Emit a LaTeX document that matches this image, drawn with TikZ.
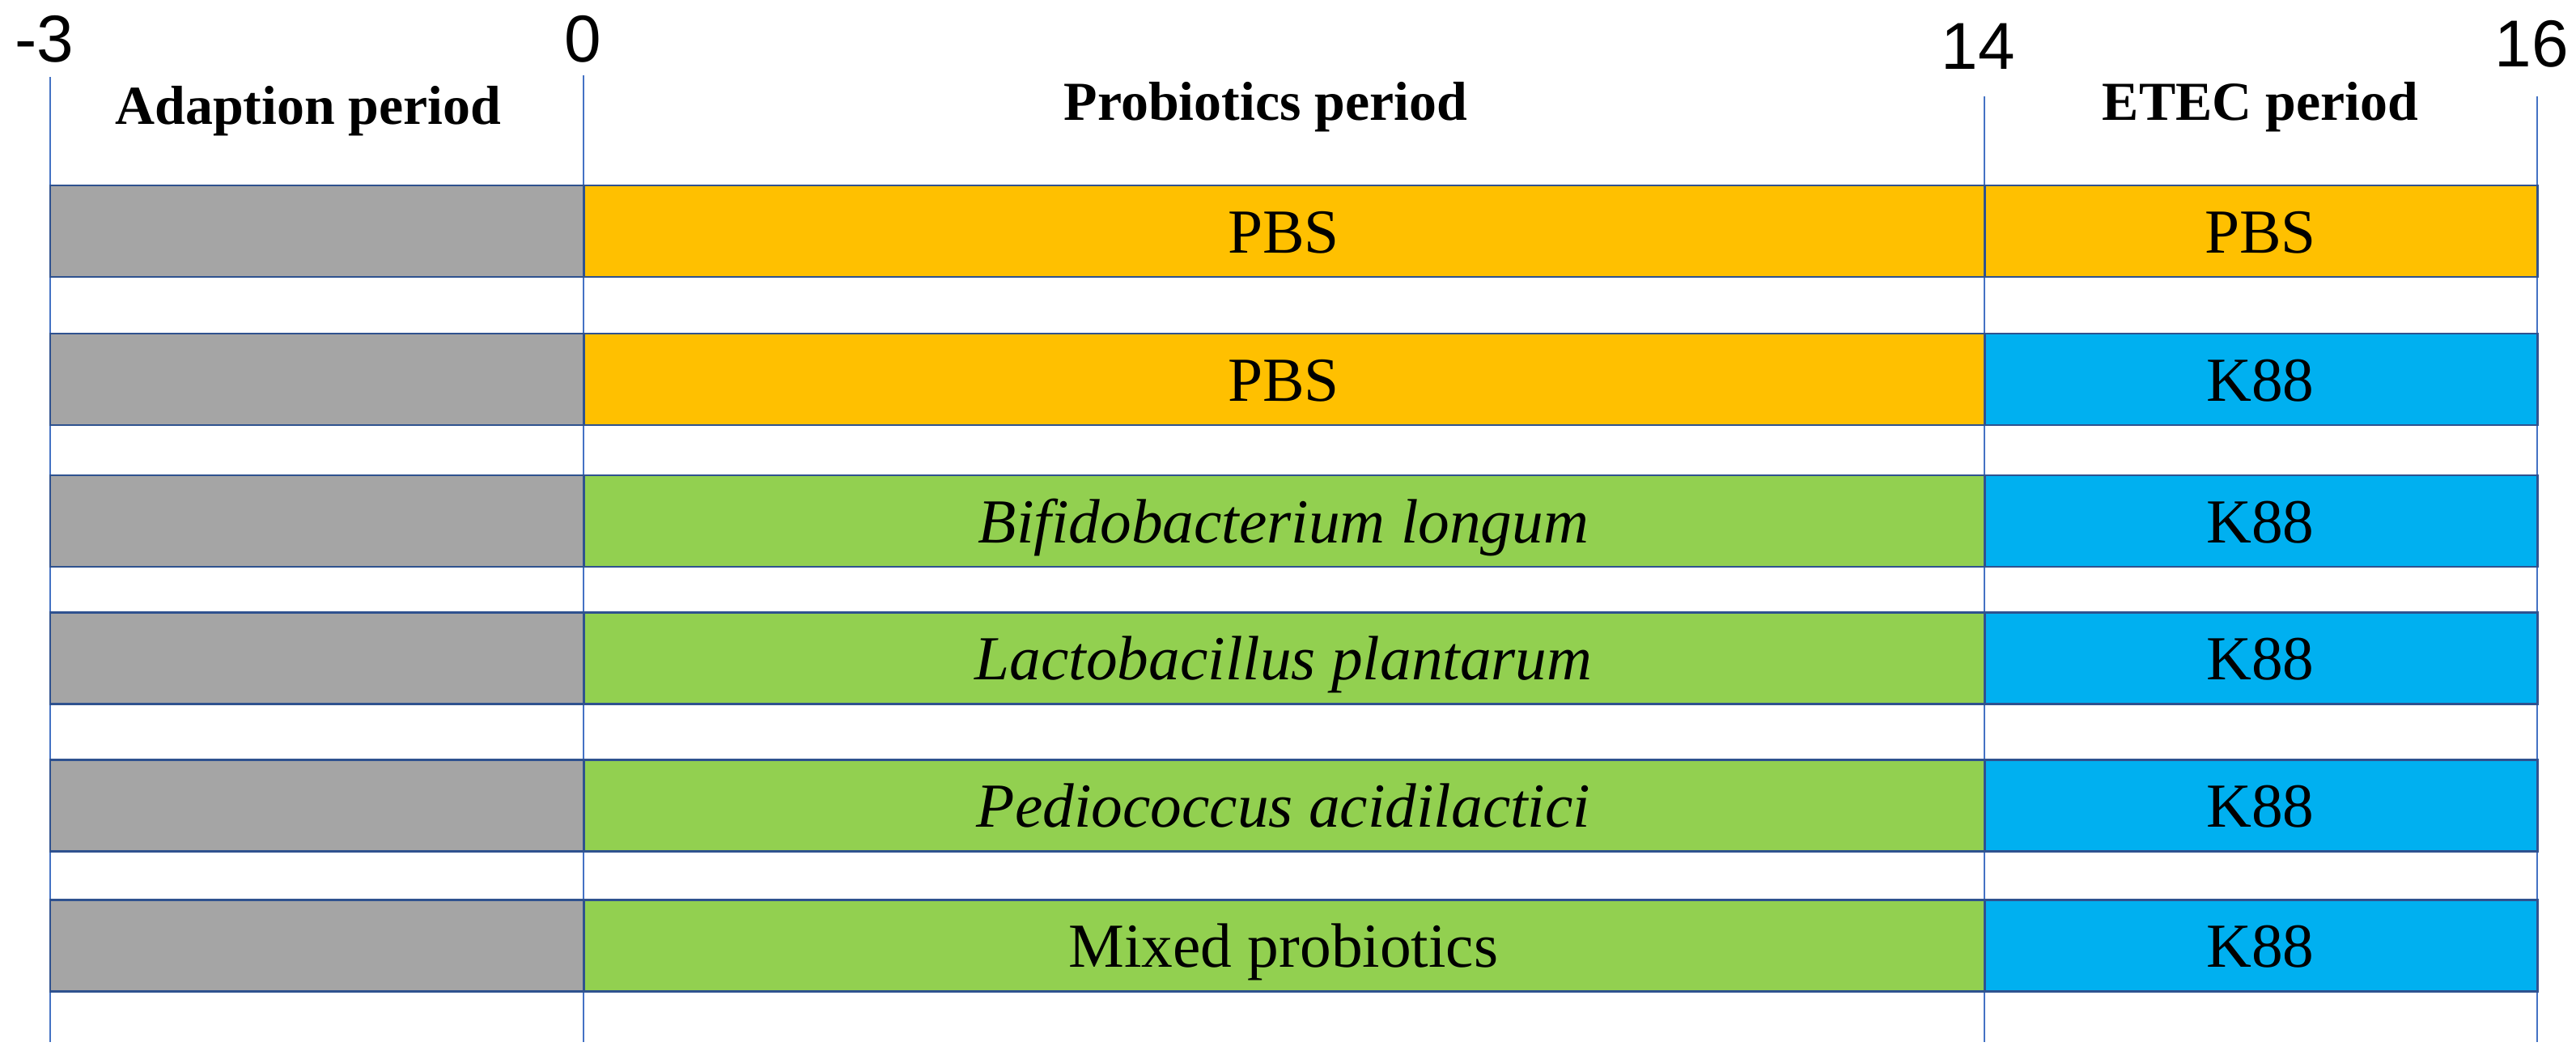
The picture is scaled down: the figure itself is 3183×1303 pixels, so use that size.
\documentclass[tikz,border=0pt]{standalone}
\usepackage{fontspec}
\setmainfont{Liberation Serif}
\newfontfamily\daysans{Liberation Sans}
\usepackage{xcolor}
\usepackage{tikz}
\definecolor{grid}{HTML}{4472C4}
\definecolor{edge}{HTML}{2F528F}
\definecolor{adapt}{HTML}{A5A5A5}
\definecolor{pbs}{HTML}{FFC000}
\definecolor{probio}{HTML}{92D050}
\definecolor{etec}{HTML}{00B0F0}
\tikzset{
  tick/.style={draw=grid, line width=0.75pt},
  bar/.style={draw=edge, line width=0.85pt},
  day/.style={font=\daysans\fontsize{23.3}{26}\selectfont, inner sep=0pt},
  head/.style={font=\bfseries\fontsize{19.3}{22}\selectfont, anchor=base, inner sep=0pt},
  lab/.style={font=\fontsize{22}{26}\selectfont, anchor=base, inner sep=0pt},
}
\begin{document}
\begin{tikzpicture}[x=0.01cm, y=-0.01cm]
  \useasboundingbox (0,0) rectangle (3183,1303);
  \def\xa{62}
  \def\xb{721}
  \def\xc{2452}
  \def\xd{3135}
  \draw[tick] (\xa,95) -- (\xa,1287);
  \draw[tick] (\xb,93) -- (\xb,1287);
  \draw[tick] (\xc,119) -- (\xc,1287);
  \draw[tick] (\xd,119) -- (\xd,1287);
  \node[day] (dayA) at (55,48) {-3};
  \node[day] (dayB) at (720,48) {0};
  \node[day] (dayC) at (2444,57) {14};
  \node[day] (dayD) at (3128,54) {16};
  \node[head] (adaption) at (381,153) {Adaption period};
  \node[head] (probiotics) at (1564,148) {Probiotics period};
  \node[head] (etec) at (2793,148) {ETEC period};
  \foreach \t/\mc/\mt/\rc/\rt [count=\i] in {
      229/pbs/PBS/pbs/PBS,
      412/pbs/PBS/etec/K88,
      587/probio/\textit{Bifidobacterium longum}/etec/K88,
      756/probio/\textit{Lactobacillus plantarum}/etec/K88,
      938/probio/\textit{Pediococcus acidilactici}/etec/K88,
      1111/probio/Mixed probiotics/etec/K88} {
    \draw[bar, fill=adapt] (\xa,\t) rectangle (\xb,\t+113);
    \draw[bar, fill=\mc] (\xb,\t) rectangle (\xc,\t+113);
    \draw[bar, fill=\rc] (\xc,\t) rectangle (\xd,\t+113);
    \node[lab] (treat\i) at (1586,\t+83) {\mt};
    \node[lab] (chall\i) at (2793,\t+83) {\rt};
  }
\end{tikzpicture}
\end{document}
